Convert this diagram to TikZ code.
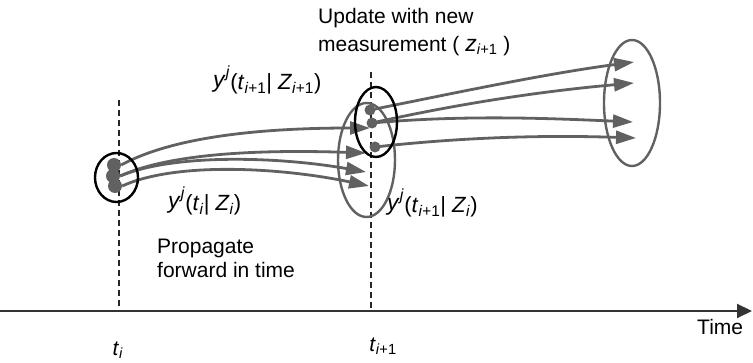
\documentclass[tikz,border=0pt]{standalone}
\usepackage{fontspec}
\setmainfont{Liberation Sans}
\usetikzlibrary{
    positioning,
    arrows.meta,
    shapes.geometric
}
\tikzset{
    >=Stealth,
    rastro/.style={
        draw=black!62,
        line width=2.8pt,
        -{Triangle[length=20pt,width=13pt]}
    },
    conjunto/.style={
        ellipse,
        draw,
        line width=2.4pt,
        inner sep=0pt
    },
    particula/.style={
        circle,
        fill=black!62,
        minimum size=14pt,
        inner sep=0pt
    },
    instante/.style={
        draw=black!85,
        line width=1.1pt,
        dash pattern=on 6pt off 4pt
    },
    etiqueta/.style={
        inner sep=0pt,
        font=\fontsize{21}{28}\selectfont
    }
}
\newcommand{\estim}[2]{{\fontsize{23}{23}\selectfont\textit{y}\raisebox{1pt}{\textsuperscript{\textit{j}}}}\raisebox{-2pt}{\fontsize{22}{22}\selectfont(\textit{t}\textsubscript{#1}| \textit{Z}\textsubscript{#2})}}

\begin{document}
\begin{tikzpicture}[
    x=1pt,
    y=-1pt
]
    \useasboundingbox (0,0) rectangle (753,363);

    % Eje del tiempo
    \coordinate (ejeA) at (0,311);
    \coordinate (ejeB) at (752,311);
    \draw[draw=black!80, line width=2pt, -{Triangle[length=15pt,width=14pt]}] (ejeA) -- (ejeB);
    \node[etiqueta, anchor=north west] (tiempo) at (697,319) {Time};

    % Instantes
    \coordinate (tiA) at (119,100);
    \coordinate (tiB) at (119,310);
    \coordinate (tjA) at (371,72);
    \coordinate (tjB) at (371,310);
    \draw[instante] (tiA) -- (tiB);
    \draw[instante] (tjA) -- (tjB);
    \node[etiqueta] (ti) at (118,350) {\textit{t}\textsubscript{\textit{i}}};
    \node[etiqueta] (tj) at (383,346) {\textit{t}\textsubscript{\textit{i}+1}};

    % Conjuntos predichos
    \node[conjunto, draw=black!62, minimum width=57pt, minimum height=114pt] (pred)   at (366.5,160) {};
    \node[conjunto, draw=black!62, minimum width=56pt, minimum height=126pt] (futuro) at (632,103)   {};

    % Particulas
    \node[particula] (p1) at (114,165) {};
    \node[particula] (p2) at (113,176) {};
    \node[particula] (p3) at (115,186) {};
    \node[particula, minimum size=11pt] (q1) at (370,110) {};
    \node[particula, minimum size=11pt] (q2) at (372,123) {};
    \node[particula, minimum size=11pt] (q3) at (375,147) {};

    % Puntas
    \coordinate (a1) at (370,128);
    \coordinate (a2) at (366,153);
    \coordinate (a3) at (366,172);
    \coordinate (a4) at (369,186);
    \coordinate (b1) at (634,62);
    \coordinate (b2) at (634,83);
    \coordinate (b3) at (633,122);
    \coordinate (b4) at (636,138);

    % Propagacion
    \draw[rastro] (p1.east)   .. controls +(55,-30) and +(-100,0) .. (a1);
    \draw[rastro] (p2.east)   .. controls +(55,-25) and +(-90,-3) .. (a2);
    \draw[rastro] (p2.east)   .. controls +(55,-23) and +(-85,-15) .. (a3);
    \draw[rastro] (p3.east)   .. controls +(55,-25) and +(-85,-18) .. (a4);
    \draw[rastro] (q1.center) .. controls +(90,-18) and +(-90,12) .. (b1);
    \draw[rastro] (q2.center) .. controls +(90,-20) and +(-90,8) .. (b2);
    \draw[rastro] (q2.center) .. controls +(90,-8) and +(-90,-4) .. (b3);
    \draw[rastro] (q3.center) .. controls +(90,-10) and +(-90,-3) .. (b4);

    % Conjuntos actualizados
    \node[conjunto, minimum width=43pt, minimum height=49pt] (previo) at (116.5,177.5) {};
    \node[conjunto, minimum width=42pt, minimum height=70pt] (actual) at (376,122)     {};

    % Textos
    \node[etiqueta, anchor=north west, align=left] (medida) at (318,8)
        {Update with new\\measurement ( {\fontsize{23}{23}\selectfont\textit{z}}\textsubscript{\textit{i}+1} )};
    \node[etiqueta, anchor=north west, align=left, font=\fontsize{21}{24}\selectfont] (propaga) at (157,239)
        {Propagate\\forward in time};
    \node[etiqueta, anchor=west] (est1) at (168,201) {\estim{\textit{i}}{\textit{i}}};
    \node[etiqueta, anchor=west] (est2) at (213,80)  {\estim{\textit{i}+1}{\textit{i}+1}};
    \node[etiqueta, anchor=west] (est3) at (387,203) {\estim{\textit{i}+1}{\textit{i}}};

\end{tikzpicture}
\end{document}
